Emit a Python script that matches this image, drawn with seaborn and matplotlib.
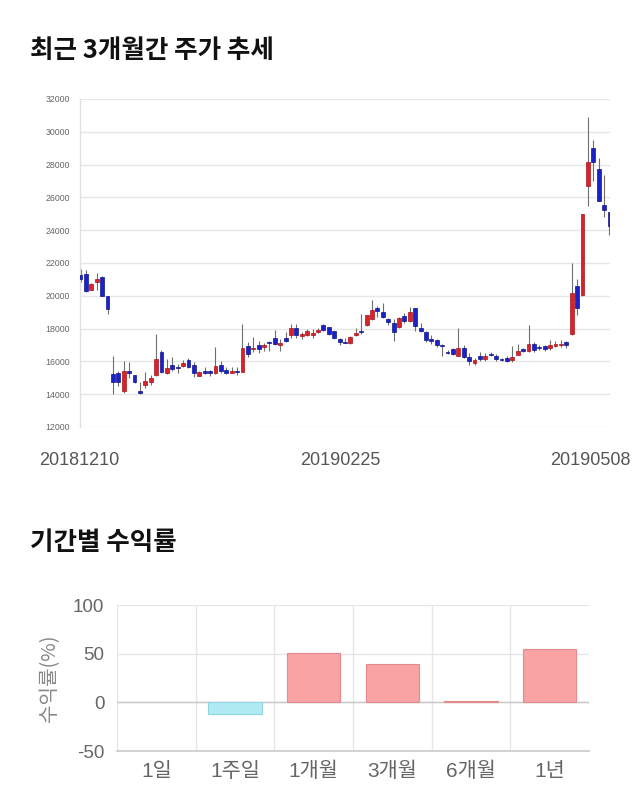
import matplotlib
matplotlib.use("Agg")
import matplotlib.pyplot as plt
import seaborn as sns
import numpy as np
import pandas as pd

# ---------------- data ----------------
opens = [21250, 21330, 20370, 20820, 21170, 19970, 15230, 15270, 14220, 15390,
         15170, 14220, 14560, 14720, 15190, 16550, 15270, 15800, 15640, 15740,
         16080, 15800, 15130, 15410, 15390, 15270, 15780, 15480, 15310, 15430,
         15330, 16920, 16760, 17000, 16880, 17200, 17450, 17000, 17450, 17590,
         18020, 17530, 17630, 17590, 17780, 18200, 18080, 17860, 17390, 17210,
         17110, 17610, 17860, 18220, 18570, 19280, 19040, 18570, 18330, 18100,
         18770, 18470, 19240, 18020, 17800, 17390, 17310, 17000, 16590, 16770,
         16350, 16830, 16270, 15900, 16310, 16170, 16460, 16350, 16130, 16210,
         16070, 16420, 16740, 16620, 17050, 16890, 16960, 16800, 16960, 17000,
         17210, 17650, 20590, 20040, 26720, 29010, 27730, 25510, 25100]
highs = [21650, 21600, 20750, 21370, 21200, 20000, 16350, 15430, 16050, 15940,
         15200, 14720, 15370, 15170, 17670, 16700, 16150, 16250, 15840, 16110,
         16190, 15940, 15430, 15640, 15480, 16860, 16050, 15640, 15640, 15640,
         18280, 17160, 17470, 17220, 17150, 17250, 17920, 17350, 17820, 18300,
         18300, 17800, 17960, 17960, 18060, 18300, 18120, 17880, 17450, 17450,
         17550, 18060, 18870, 18850, 19750, 19380, 19540, 18670, 18610, 18730,
         18940, 19320, 19280, 18370, 17840, 17590, 17390, 17090, 16700, 16800,
         18060, 17030, 16520, 16210, 16560, 16520, 16560, 16460, 16210, 16310,
         16930, 17070, 16830, 18200, 17180, 17030, 17030, 17310, 17250, 17310,
         17250, 22000, 21050, 25000, 30930, 29510, 28380, 27370, 25100]
lows = [20850, 20250, 20350, 20370, 19990, 18890, 14010, 14520, 14070, 14970,
        14700, 14010, 14360, 14580, 15130, 15290, 15210, 15430, 15290, 15640,
        15580, 15030, 15090, 15230, 15090, 15230, 15290, 15230, 15270, 15170,
        15330, 16250, 16550, 16510, 16640, 16640, 16980, 16640, 17190, 17450,
        17450, 17390, 17550, 17430, 17740, 17860, 17630, 17350, 17000, 17100,
        17090, 17550, 17650, 18160, 18500, 18730, 18670, 18200, 17250, 18020,
        18370, 18430, 17860, 17800, 17190, 17040, 16900, 16330, 16450, 16400,
        16310, 16210, 15800, 15800, 16000, 16000, 16310, 16000, 16000, 15940,
        15940, 16370, 16560, 16580, 16560, 16720, 16620, 16700, 16880, 16900,
        16840, 17610, 18830, 20000, 25470, 27020, 25770, 24800, 23720]
closes = [21050, 20300, 20720, 21020, 20010, 19200, 14760, 14760, 15390, 15290,
          14720, 14050, 14830, 15010, 16150, 15370, 15580, 15540, 15580, 15880,
          15680, 15290, 15330, 15310, 15270, 15700, 15390, 15270, 15410, 15330,
          16820, 16450, 16840, 16760, 16980, 17150, 17040, 17150, 17250, 18020,
          17610, 17650, 17840, 17760, 17940, 17920, 17700, 17430, 17210, 17150,
          17490, 17760, 17800, 18810, 19120, 19060, 18730, 18430, 17800, 18650,
          18490, 19040, 18160, 17860, 17310, 17250, 17000, 16960, 16530, 16480,
          16830, 16270, 16000, 16100, 16170, 16310, 16400, 16170, 16070, 16000,
          16270, 16660, 16620, 17050, 16680, 16830, 16760, 17000, 17040, 17080,
          17000, 20200, 19270, 24980, 28140, 28140, 25810, 25260, 24250]
date_labels = ["20181210", "20190225", "20190508"]
date_label_idx = [0, 49, 98]
price_ticks = [12000, 14000, 16000, 18000, 20000, 22000, 24000, 26000, 28000, 30000, 32000]

periods = ["1일", "1주일", "1개월", "3개월", "6개월", "1년"]
returns = [0.0, -12.4, 50.5, 39.6, 1.4, 54.5]
return_ticks = [-50, 0, 50, 100]

# ---------------- style ----------------
sns.set_theme(style="white")
plt.rcParams['font.family'] = ['Liberation Sans', 'Noto Sans CJK KR', 'DejaVu Sans']

fig = plt.figure(figsize=(6.4, 8.1), dpi=100)

UP, UP_EDGE = "#d8232a", "#a8141a"
DOWN, DOWN_EDGE = "#1a22c8", "#10168a"

# ---------------- candlestick ----------------
ax1 = fig.add_axes([80/640, 1-427/810, 530/640, 328/810])
df = pd.DataFrame({"o": opens, "h": highs, "l": lows, "c": closes})
df["i"] = np.arange(len(df))
df["up"] = df["c"] >= df["o"]
ax1.vlines(df["i"], df["l"], df["h"], color="#6e6e6e", linewidth=0.8, zorder=2)
body_low = np.minimum(df["o"], df["c"])
body_h = np.maximum(np.abs(df["c"] - df["o"]), 40)
ax1.bar(df["i"], body_h, bottom=body_low, width=0.72,
        color=[UP if u else DOWN for u in df["up"]],
        edgecolor=[UP_EDGE if u else DOWN_EDGE for u in df["up"]],
        linewidth=0.5, zorder=3)
ax1.set_xlim(-0.1, len(df) - 1 + 0.1)
ax1.set_ylim(12000, 32000)
ax1.set_yticks(price_ticks)
ax1.set_yticklabels([str(t) for t in price_ticks], fontsize=6.3, color="#666666")
ax1.tick_params(axis="y", length=0, pad=7)
ax1.set_xticks([])
ax1.grid(axis="y", color="#e6e6e6", linewidth=1)
for s in ["top", "right", "bottom"]:
    ax1.spines[s].set_visible(False)
ax1.spines["left"].set_color("#e0e0e0")
ax1.spines["left"].set_linewidth(1)
offsets = [-1, -5, -19]
for lab, idx, dx in zip(date_labels, date_label_idx, offsets):
    ax1.annotate(lab, xy=(idx, 0), xycoords=("data", "axes fraction"),
                 xytext=(dx * 0.72, -24), textcoords="offset points",
                 ha="center", va="center", fontsize=13, color="#555555",
                 annotation_clip=False)

fig.text(30/640, 1-50/810, "최근 3개월간 주가 추세", fontsize=18.4, fontweight="bold",
         family=["Noto Sans CJK KR"], color="#111111", va="center", ha="left")

# ---------------- returns bar chart ----------------
ax2 = fig.add_axes([117/640, 1-751/810, 472/640, 146/810])
rdf = pd.DataFrame({"period": periods, "ret": returns})
pal = {p: ("#f9a3a4" if r >= 0 else "#b0eaf3") for p, r in zip(periods, returns)}
sns.barplot(data=rdf, x="period", y="ret", hue="period", palette=pal,
            legend=False, width=0.68, saturation=1, ax=ax2, zorder=3)
for patch, r in zip(ax2.patches, returns):
    patch.set_edgecolor("#e58a8c" if r >= 0 else "#8fd6e2")
    patch.set_linewidth(0.8 if r != 0 else 0)
ax2.set_ylim(-50, 100)
ax2.set_xlim(-0.5, len(periods) - 0.5)
ax2.set_yticks(return_ticks)
ax2.set_yticklabels([str(t) for t in return_ticks], fontsize=13.5, color="#666666")
ax2.tick_params(axis="y", length=0, pad=9)
ax2.tick_params(axis="x", which="major", length=0, pad=8, labelsize=15, labelcolor="#666666")
ax2.set_xticks(np.arange(-0.5, len(periods) - 0.5, 1.0), minor=True)
ax2.tick_params(axis="x", which="minor", length=8, color="#e6e6e6", width=1)
ax2.grid(axis="y", color="#e6e6e6", linewidth=1, zorder=0)
for b in np.arange(-0.5, len(periods) - 0.5, 1.0):
    ax2.axvline(b, color="#e6e6e6", linewidth=1, zorder=0)
ax2.axhline(0, color="#c8c8c8", linewidth=1, zorder=2)
for s in ["top", "right", "left"]:
    ax2.spines[s].set_visible(False)
ax2.spines["bottom"].set_color("#cccccc")
ax2.set_xlabel("")
ax2.set_ylabel("수익률(%)", fontsize=14.5, color="#888888", labelpad=9,
               family=["Noto Sans CJK KR"])

fig.text(30/640, 1-543/810, "기간별 수익률", fontsize=18.4, fontweight="bold",
         family=["Noto Sans CJK KR"], color="#111111", va="center", ha="left")

fig.savefig("out.png", dpi=100, facecolor="white")
